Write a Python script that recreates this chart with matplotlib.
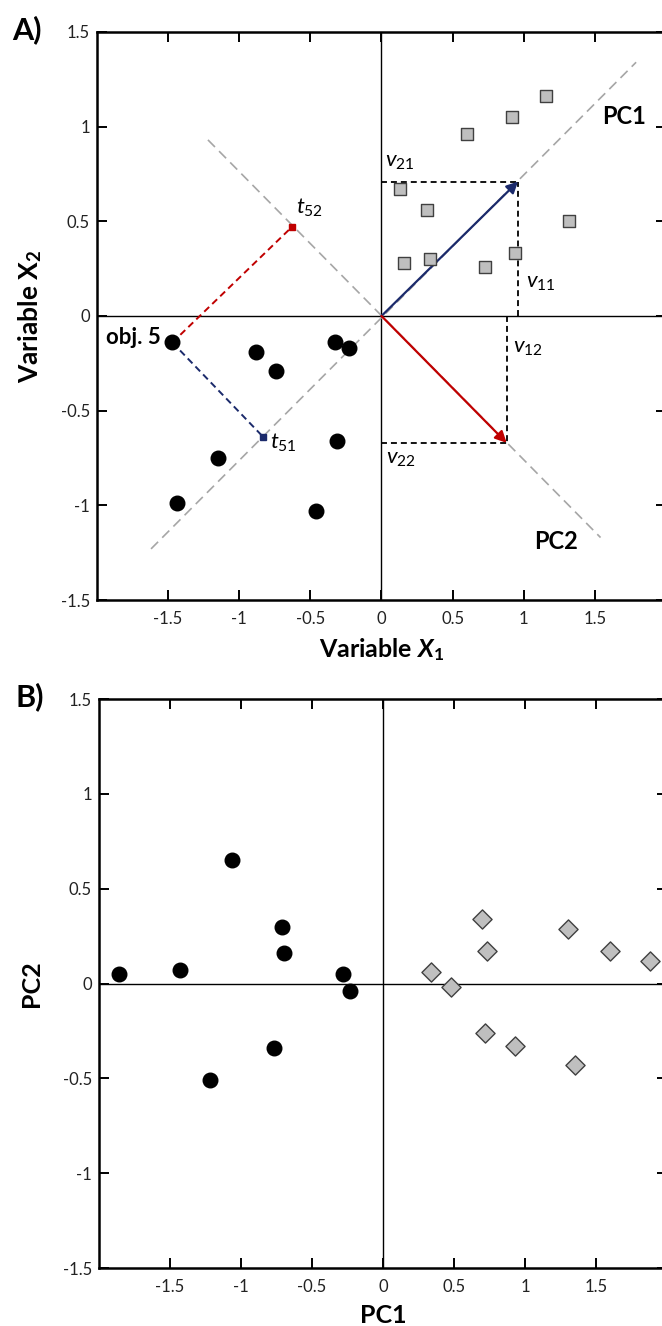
import matplotlib
matplotlib.use("Agg")
import matplotlib.pyplot as plt

plt.rcParams["font.family"] = ["Lato", "DejaVu Sans"]
plt.rcParams["mathtext.fontset"] = "custom"
plt.rcParams["mathtext.rm"] = "Lato"
plt.rcParams["mathtext.it"] = "Lato:italic"
plt.rcParams["mathtext.bf"] = "Lato:bold"
plt.rcParams["mathtext.bfit"] = "Lato:bold:italic"

# ---- data: panel A (original variables) ----
grp1_x1 = [-1.47, -0.88, -0.74, -0.33, -0.23, -1.15, -0.31, -1.44, -0.46]
grp1_x2 = [-0.14, -0.19, -0.29, -0.14, -0.17, -0.75, -0.66, -0.99, -1.03]
grp2_x1 = [1.16, 0.92, 0.60, 0.13, 0.32, 1.32, 0.16, 0.34, 0.73, 0.94]
grp2_x2 = [1.16, 1.05, 0.96, 0.67, 0.56, 0.50, 0.28, 0.30, 0.26, 0.33]

pc1_line = ([-1.62, 1.79], [-1.23, 1.34])
pc2_line = ([-1.22, 1.54], [0.93, -1.17])
v1 = (0.96, 0.71)     # loading vector PC1 (v11, v21)
v2 = (0.88, -0.67)    # loading vector PC2 (v12, v22)
obj5 = (-1.47, -0.14)
t51 = (-0.83, -0.64)
t52 = (-0.63, 0.47)

# ---- data: panel B (scores) ----
sc1_pc1 = [-1.86, -1.43, -1.06, -0.71, -0.70, -0.28, -0.23, -0.77, -1.22]
sc1_pc2 = [0.05, 0.07, 0.65, 0.30, 0.16, 0.05, -0.04, -0.34, -0.51]
sc2_pc1 = [0.70, 0.73, 0.34, 0.48, 1.30, 1.60, 1.88, 0.72, 0.93, 1.35]
sc2_pc2 = [0.34, 0.17, 0.06, -0.02, 0.29, 0.17, 0.12, -0.26, -0.33, -0.43]

ticks = [-1.5, -1, -0.5, 0, 0.5, 1, 1.5]
tick_labels = ["-1.5", "-1", "-0.5", "0", "0.5", "1", "1.5"]

NAVY = "#1b2a6b"
RED = "#c00000"
GRAY = "#a6a6a6"

fig = plt.figure(figsize=(6.62, 13.26), dpi=100)
axA = fig.add_axes([0.1465, 0.5475, 0.8595, 0.4284])
axB = fig.add_axes([0.1495, 0.0437, 0.8580, 0.4291])


def style(ax):
    ax.set_xlim(-2, 2)
    ax.set_ylim(-1.5, 1.5)
    ax.set_xticks(ticks)
    ax.set_xticklabels(tick_labels)
    ax.set_yticks(ticks)
    ax.set_yticklabels(tick_labels)
    ax.tick_params(direction="in", length=7, width=1.4, top=True, right=True,
                   labelsize=12, labelcolor="#222222", pad=5)
    ax.tick_params(axis="x", pad=8)
    for s in ax.spines.values():
        s.set_linewidth(1.8)
    ax.axhline(0, color="black", lw=1.0, zorder=1)
    ax.axvline(0, color="black", lw=1.0, zorder=1)


style(axA)
style(axB)

# panel A
axA.plot(*pc1_line, color=GRAY, lw=1.2, ls=(0, (6, 3.5)), zorder=2)
axA.plot(*pc2_line, color=GRAY, lw=1.2, ls=(0, (6, 3.5)), zorder=2)

kd = dict(color="black", lw=1.3, ls=(0, (3.3, 2.2)), zorder=2)
axA.plot([0, v1[0]], [v1[1], v1[1]], **kd)
axA.plot([v1[0], v1[0]], [0, v1[1]], **kd)
axA.plot([0, v2[0]], [v2[1], v2[1]], **kd)
axA.plot([v2[0], v2[0]], [0, v2[1]], **kd)

axA.plot([obj5[0], t52[0]], [obj5[1], t52[1]], color=RED, lw=1.4,
         ls=(0, (3.5, 2.2)), zorder=2)
axA.plot([obj5[0], t51[0]], [obj5[1], t51[1]], color=NAVY, lw=1.4,
         ls=(0, (3.5, 2.2)), zorder=2)
axA.plot(*t52, marker="s", ms=4.5, color=RED, zorder=4)
axA.plot(*t51, marker="s", ms=4.5, color=NAVY, zorder=4)

axA.annotate("", xy=v1, xytext=(0, 0),
             arrowprops=dict(arrowstyle="-|>", color=NAVY, lw=1.6,
                             mutation_scale=17, shrinkA=0, shrinkB=0), zorder=3)
axA.annotate("", xy=v2, xytext=(0, 0),
             arrowprops=dict(arrowstyle="-|>", color=RED, lw=1.6,
                             mutation_scale=17, shrinkA=0, shrinkB=0), zorder=3)

axA.scatter(grp1_x1, grp1_x2, s=110, marker="o", color="black", zorder=5)
axA.scatter(grp2_x1, grp2_x2, s=75, marker="s", facecolor="#bfbfbf",
            edgecolor="#404040", linewidth=1.0, zorder=5)

axA.text(1.55, 1.014, "PC1", fontsize=17, fontweight="bold", va="baseline")
axA.text(1.074, -1.231, "PC2", fontsize=17, fontweight="bold", va="baseline")
axA.text(0.028, 0.787, r"$v_{21}$", fontsize=16, va="baseline")
axA.text(1.018, 0.148, r"$v_{11}$", fontsize=16, va="baseline")
axA.text(0.924, -0.195, r"$v_{12}$", fontsize=16, va="baseline")
axA.text(0.031, -0.782, r"$v_{22}$", fontsize=16, va="baseline")
axA.text(-0.604, 0.539, r"$t_{52}$", fontsize=16, va="baseline")
axA.text(-0.786, -0.703, r"$t_{51}$", fontsize=16, va="baseline")
axA.text(-1.551, -0.148, "obj. 5", fontsize=16, fontweight="bold",
         ha="right", va="baseline")

axA.set_xlabel(r"Variable $\mathbfit{X}_{\mathbf{1}}$", fontsize=18,
               fontweight="bold", va="top")
axA.xaxis.set_label_coords(0.5, -0.063)
axA.set_ylabel(r"Variable $\mathbf{X}_{\mathbf{2}}$", fontsize=19,
               fontweight="bold", va="center")
axA.yaxis.set_label_coords(-0.118, 0.5)

# panel B
axB.scatter(sc1_pc1, sc1_pc2, s=110, marker="o", color="black", zorder=5)
axB.scatter(sc2_pc1, sc2_pc2, s=95, marker="D", facecolor="#bfbfbf",
            edgecolor="#404040", linewidth=1.0, zorder=5)
axB.set_xlabel("PC1", fontsize=18, fontweight="bold", va="top")
axB.xaxis.set_label_coords(0.5, -0.063)
axB.set_ylabel("PC2", fontsize=18, fontweight="bold", va="center")
axB.yaxis.set_label_coords(-0.118, 0.5)

fig.text(12 / 662, 1 - 30 / 1326, "A)", fontsize=22, fontweight="bold",
         ha="left", va="center")
fig.text(15 / 662, 1 - 697 / 1326, "B)", fontsize=22, fontweight="bold",
         ha="left", va="center")

fig.savefig("out.png", dpi=100)
